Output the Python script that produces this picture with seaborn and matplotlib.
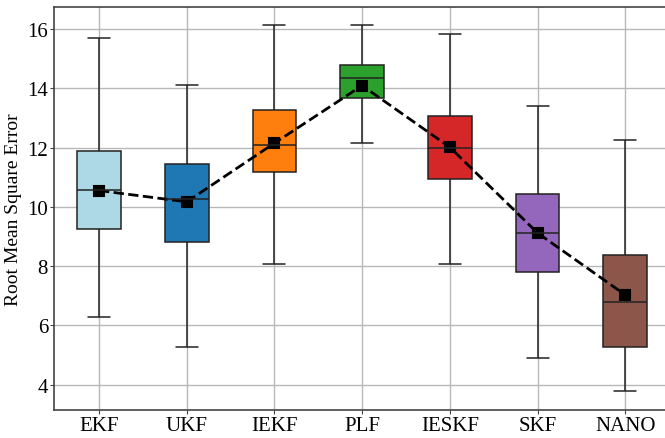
import pandas as pd
import matplotlib
matplotlib.use('Agg')
import matplotlib.pyplot as plt
import seaborn as sns

# Filters compared
filters = ['EKF', 'UKF', 'IEKF', 'PLF', 'IESKF', 'SKF', 'NANO']

# Five-number summaries: [min, Q1, median, Q3, max]
ekf = [6.27, 9.25, 10.58, 11.89, 15.69]
ukf = [5.29, 8.80, 10.26, 11.43, 14.12]
iekf = [8.09, 11.17, 12.09, 13.27, 16.13]
plf = [12.14, 13.67, 14.34, 14.80, 16.12]
ieskf = [8.08, 10.93, 11.97, 13.05, 15.82]
skf = [4.89, 7.79, 9.13, 10.43, 13.41]
nano = [3.78, 5.28, 6.78, 8.38, 12.27]

# Mean RMSE per filter
means = [10.55, 10.17, 12.15, 14.09, 12.01, 9.12, 7.03]

colors = ['#add8e6', '#1f77b4', '#ff7f0e', '#2ca02c', '#d62728', '#9467bd', '#8c564b']

# Build long-form frame
summaries = [ekf, ukf, iekf, plf, ieskf, skf, nano]
rows = []
for name, vals in zip(filters, summaries):
    for v in vals:
        rows.append({'filter': name, 'rmse': v})
df = pd.DataFrame(rows)
mean_df = pd.DataFrame({'filter': filters, 'rmse': means})

sns.set_style('whitegrid')
plt.rcParams['font.family'] = ['Liberation Serif', 'DejaVu Serif']
plt.rcParams['text.color'] = 'black'
plt.rcParams['axes.labelcolor'] = 'black'
plt.rcParams['xtick.color'] = 'black'
plt.rcParams['ytick.color'] = 'black'

fig = plt.figure(figsize=(6.65, 4.39), dpi=100)
ax = fig.add_axes([54.3 / 665, 1 - 410.7 / 439, (670 - 54.3) / 665, (410.7 - 8) / 439])

sns.boxplot(data=df, x='filter', y='rmse', hue='filter', palette=colors,
            saturation=1, whis=(0, 100), width=0.5, linewidth=1.1,
            linecolor='#222222', legend=False, ax=ax)

# Mean markers connected with a dashed line
sns.pointplot(data=mean_df, x='filter', y='rmse', color='black', markers='s',
              linestyles='--', errorbar=None, ax=ax,
              markersize=7.5, linewidth=2)

ax.set_ylim(3.16, 16.74)
ax.set_xlim(-0.51, 6.51)
ax.set_xlabel('')
ax.set_ylabel('Root Mean Square Error', fontsize=14, labelpad=4)
ax.tick_params(axis='both', labelsize=15, length=3, pad=1.5, color='#444444',
               bottom=True, left=True)
ax.grid(True, color='#b8b8b8', linewidth=1)
for s in ax.spines.values():
    s.set_color('#444444')
    s.set_linewidth(1.2)

fig.savefig('out.png', dpi=100)
